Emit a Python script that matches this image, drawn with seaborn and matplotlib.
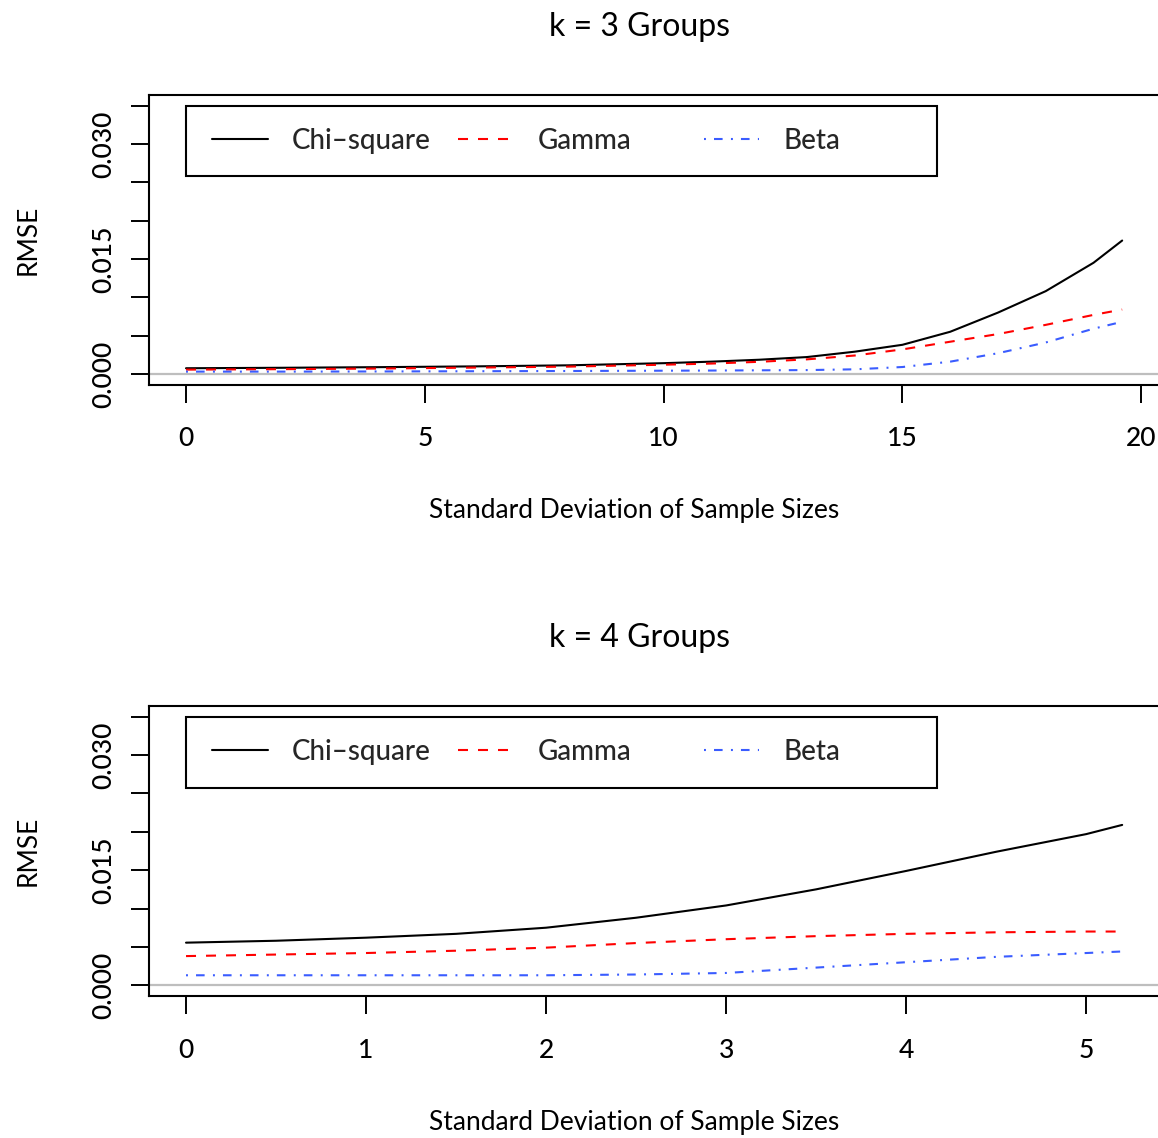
import numpy as np
import pandas as pd
import matplotlib
matplotlib.use('Agg')
import matplotlib.pyplot as plt
import seaborn as sns
from matplotlib.legend import Legend
from matplotlib.patches import Rectangle

# values
methods = ['Chi–square', 'Gamma', 'Beta']

sd_k3 = [0, 2, 4, 6, 8, 10, 11, 12, 13, 14, 15, 16, 17, 18, 19, 19.6]
chi_k3 = [0.00074, 0.00080, 0.00088, 0.00098, 0.00112, 0.00140, 0.00160, 0.00185,
          0.00220, 0.00290, 0.00380, 0.00550, 0.00800, 0.01080, 0.01450, 0.01740]
gamma_k3 = [0.00056, 0.00062, 0.00070, 0.00082, 0.00095, 0.00120, 0.00135, 0.00158,
            0.00190, 0.00240, 0.00320, 0.00420, 0.00520, 0.00640, 0.00770, 0.00840]
beta_k3 = [0.00030, 0.00030, 0.00032, 0.00035, 0.00038, 0.00042, 0.00044, 0.00047,
           0.00050, 0.00060, 0.00090, 0.00160, 0.00270, 0.00410, 0.00590, 0.00680]

sd_k4 = [0, 0.5, 1, 1.5, 2, 2.5, 3, 3.5, 4, 4.5, 5, 5.2]
chi_k4 = [0.00555, 0.0058, 0.0062, 0.0067, 0.0075, 0.0088, 0.0104, 0.0125, 0.0149, 0.0174, 0.0197, 0.0209]
gamma_k4 = [0.0038, 0.0040, 0.0042, 0.0045, 0.0049, 0.0055, 0.0060, 0.0064, 0.0067, 0.0069, 0.0070, 0.0070]
beta_k4 = [0.0013, 0.0013, 0.0013, 0.0013, 0.0013, 0.0014, 0.0016, 0.0023, 0.0030, 0.0037, 0.0042, 0.0044]

xticks_k3 = [0, 5, 10, 15, 20]
xticks_k4 = [0, 1, 2, 3, 4, 5]
yticks = [0, 0.005, 0.010, 0.015, 0.020, 0.025, 0.030, 0.035]
ytick_labels = ['0.000', '', '', '0.015', '', '', '0.030', '']
titles = ['k = 3 Groups', 'k = 4 Groups']


def long_form(sd, chi, gam, bet):
    frames = []
    for name, vals in zip(methods, [chi, gam, bet]):
        frames.append(pd.DataFrame({'sd': sd, 'rmse': vals, 'method': name}))
    return pd.concat(frames, ignore_index=True)


k3 = long_form(sd_k3, chi_k3, gamma_k3, beta_k3)
k4 = long_form(sd_k4, chi_k4, gamma_k4, beta_k4)

sns.set_theme(style='white')
plt.rcParams['font.family'] = ['Lato', 'DejaVu Sans']
plt.rcParams['font.weight'] = 'medium'
plt.rcParams['lines.scale_dashes'] = False

palette = {'Chi–square': 'black', 'Gamma': '#FF0000', 'Beta': '#3A5CFF'}
dashes = {'Chi–square': '', 'Gamma': (7.2, 7.2), 'Beta': (1.4, 5.8, 6.2, 6.0)}

fig = plt.figure(figsize=(11.58, 11.38), dpi=100)
ax_top = fig.add_axes([0.1283, 0.6620, 0.8731, 0.2546])
ax_bot = fig.add_axes([0.1283, 0.1248, 0.8731, 0.2548])

for ax, df, xt, title in [(ax_top, k3, xticks_k3, titles[0]), (ax_bot, k4, xticks_k4, titles[1])]:
    ax.axhline(0, color='#BEBEBE', lw=1.6, zorder=1)
    sns.lineplot(data=df, x='sd', y='rmse', hue='method', style='method',
                 palette=palette, dashes=dashes, hue_order=methods, style_order=methods,
                 linewidth=1.5, legend=False, errorbar=None, ax=ax, zorder=2)

    lo, hi = min(df['sd']), max(df['sd'])
    pad = (hi - lo) * 0.04
    ax.set_xlim(lo - pad, hi + pad)
    ax.set_ylim(-0.035 * 0.04, 0.035 * 1.04)

    ax.set_xticks(xt)
    ax.set_xticklabels([str(v) for v in xt])
    ax.set_yticks(yticks)
    ax.set_yticklabels(ytick_labels, rotation=90, va='center')
    ax.tick_params(axis='both', direction='out', length=13, width=1.4, color='black',
                   labelsize=19, labelcolor='black')
    ax.tick_params(axis='x', pad=17, bottom=True)
    ax.tick_params(axis='y', pad=10, left=True)

    for s in ax.spines.values():
        s.set_visible(True)
        s.set_color('black')
        s.set_linewidth(1.5)

    ax.set_title(title, x=0.486, y=1.175, va='baseline', fontsize=23, color='black')
    ax.set_xlabel('Standard Deviation of Sample Sizes', fontsize=19, color='black')
    ax.xaxis.set_label_coords(0.480, -0.461)
    ax.xaxis.label.set_va('baseline')
    ax.set_ylabel('RMSE', fontsize=19, color='black')
    ax.yaxis.set_label_coords(-0.1193, 0.5)
    ax.yaxis.label.set_va('center')

    # legend box in R style: equal-width columns inside one frame
    ytr = ax.get_yaxis_transform()
    frame = Rectangle((0.0372, 0.035 - 0.00923), 0.7426, 0.00923, transform=ytr,
                      facecolor='white', edgecolor='black', linewidth=1.5, zorder=4)
    ax.add_patch(frame)
    handles = ax.get_lines()[1:4]
    for i, (h, lab) in enumerate(zip(handles, methods)):
        lg = Legend(ax, [h], [lab], loc='center left',
                    bbox_to_anchor=(0.0627 + i * 0.2433, 0.0304), bbox_transform=ytr,
                    borderaxespad=0, borderpad=0, handlelength=2.0, handletextpad=0.86,
                    fontsize=20, frameon=False)
        lg.set_zorder(5)
        ax.add_artist(lg)

fig.savefig('out.png', dpi=100)
